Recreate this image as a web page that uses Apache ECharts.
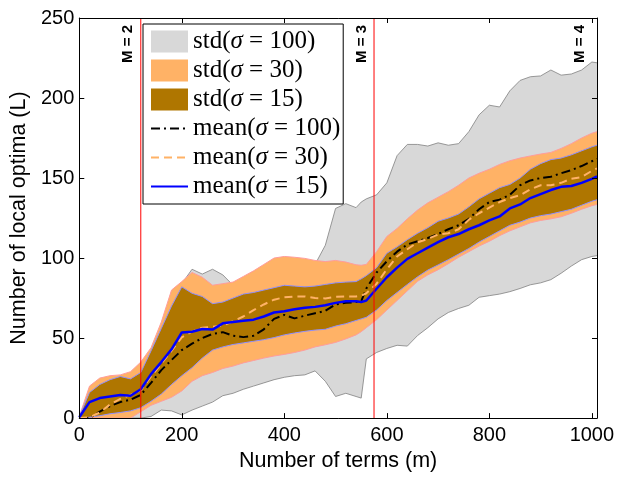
<!DOCTYPE html>
<html><head><meta charset="utf-8">
<script src="https://cdn.jsdelivr.net/npm/echarts@6/dist/echarts.min.js"></script>
<style>html,body{margin:0;padding:0;background:#fff}#c{width:618px;height:477px}</style>
</head><body><div id="c"></div>
<script>
// Number of terms (m)
const terms = [0,20,40,60,80,100,120,140,160,180,200,220,240,260,280,300,320,340,360,380,400,420,440,460,480,500,520,540,550,560,580,600,620,640,660,680,700,720,740,760,780,800,820,840,860,880,900,920,940,960,980,1000,1010];
// mean curves
const mean100 = [0,0,4,7.5,10,11.5,14.5,22,30,36.3,42.5,46.5,50,52.6,53.7,51.5,50.6,51.5,55.5,62,64.5,62.3,64,65.5,67,71,72,72.5,73,81,91,98,104,108.5,110.5,112.5,115,118,120.5,124.5,130.5,135,136.5,139.5,145.5,148.5,150,150.8,153,155,157.5,160.5,162];
const mean30 = [0,0.5,3.5,8.5,12,14.5,17.5,26,34,42,50.5,54,56.5,57,57.8,60.5,63.5,67.5,71,74,75.5,76,76,75,74.8,75.8,76,76,76.5,78,84,93,101,105.5,109.8,112,114.7,115.5,118,124,128,131.5,135,137.5,139.3,143,145.5,145.5,147,149.6,150.6,154.5,156];
const mean15 = [0.5,10,12.5,13.5,14.5,14,18,27.5,35,43,53.5,54,55.7,55.3,59.2,60,60.8,61.5,63.5,66,66.8,68,69,69.5,70.5,72,73,73,72.5,73.5,80.8,88,94,99.5,103,106.5,110,113,115,118,120.5,123.5,126,131,133.5,137.5,140,142.5,144.5,145,147,149.5,151];
// std bands (lower / upper edges)
const std100Lo = [0,0,0,0,0,0,0,1,5,4.5,2,5,7.5,10,14,15.5,18,20,22,24,25.5,26.5,27,29.5,23,13.5,15.5,13.5,12.5,37,41,43.5,45.5,45,51.6,56.5,62,66,68.5,70.5,75.5,76.5,77.5,79,81,83.3,84.5,86.5,90.5,95,99,101,101.5];
const std100Hi = [0.5,14,20,23,25,27,32,42,58,77,84,93,90,93,89.5,83,86,89,93,97,98,97,96,96,108,131,134,131.5,135,137,139.5,147,164,171,171,170,172,170.5,171.5,179,189.5,195.5,194.4,204.5,211,213.3,213.8,217.5,214.3,215,217.5,222.5,222];
const std30Lo = [0,0,0,0,0,0,4,8,10.5,13,17,23,26.5,28.5,31,32.5,34.5,36,37.5,38.8,39.8,41,42.5,44.5,45.8,47.3,49.5,52,54,56.5,61.5,67.5,73.5,79.5,85.5,89.5,92.7,96.5,100.5,104,107.5,110.5,114,117,119.5,122,123.5,124.5,125.8,128,130.5,132.7,133.5];
const std30Hi = [1,20,25,26.5,27,29,35,44,60,80,85.3,91,88,83,84,85,88.5,92,96,100,101,100.5,99.8,98.5,97.8,98.5,97.5,95.8,95.5,96,104,113.5,118.5,124.5,130,134.5,138,141.5,145.5,150,153,155.5,158.5,160.8,162.5,163.8,165,166,168.5,171.5,175,178,179];
const std15Lo = [0,0.5,1.5,2.7,3.5,4.5,6.5,10.5,15,21,26.5,31.5,37.5,42.5,44.5,46,47,48,49,50.3,52,53.2,54.2,55,55.5,57.5,59,61,62,63,67.5,73.5,78.5,83.5,88.3,92.5,95.7,99,102.5,106,110,113.5,117,120.5,122.5,125,126.5,127.5,129,130.5,133,135.5,136.5];
const std15Hi = [1,16,21,24,26,24.5,28.5,42,56,70,82,78,76,71.5,72.5,75,77.5,78.5,80,81.5,83,82.5,82,82.5,83.5,84.5,85,85.3,87,89,94,103,107,111.5,115.5,119,123,125,127.5,132,137,140.5,144,146,150,155.5,159,161.5,162.5,164.5,167,169.5,170.5];
// ticks
const xTicks = [0,200,400,600,800,1000];
const yTicks = [0,50,100,150,200,250];
// vertical markers (the M = 4 boundary line is not drawn inside the frame)
const mPositions = [120,575,1000];
const mLabels = ['M = 2','M = 3','M = 4'];
const mShowLine = [true,true,false];
// legend names
const names = ['std(σ = 100)','std(σ = 30)','std(σ = 15)','mean(σ = 100)','mean(σ = 30)','mean(σ = 15)'];

const pairs = v => terms.map((x,i)=>[x,v[i]]);

function band(name, lo, hi, fill, edge, w){
  return {
    type:'custom', name, coordinateSystem:'cartesian2d', silent:true, z:2,
    data: terms.map((x,i)=>[x, lo[i], hi[i]]),
    encode:{x:0, y:[1,2]},
    itemStyle:{color:fill},
    renderItem:(params, api) => {
      if (params.dataIndex !== 0) return null;
      const up = terms.map((x,i)=>api.coord([x, hi[i]]));
      const dn = terms.map((x,i)=>api.coord([x, lo[i]]));
      return {type:'group', children:[
        {type:'polygon', shape:{points:up.concat(dn.slice().reverse())}, style:{fill:fill, stroke:null}},
        {type:'polyline', shape:{points:up}, style:{stroke:edge, lineWidth:w, fill:null}},
        {type:'polyline', shape:{points:dn}, style:{stroke:edge, lineWidth:w, fill:null}}
      ]};
    }
  };
}

const GRAY='#d8d8d8', ORANGE='#ffb266', BROWN='#af7600';
const chart = echarts.init(document.getElementById('c'));
const axisFont = {fontFamily:'Liberation Sans', fontSize:20, color:'#000'};
const serif = {fontFamily:'Liberation Serif', fontSize:25, color:'#000'};
chart.setOption({
  animation:false,
  grid:{left:76,right:21,top:18,bottom:49},
  xAxis:[
    {type:'value', min:0, max:1010, position:'bottom', z:10,
     name:'Number of terms (m)', nameLocation:'middle', nameGap:27,
     nameTextStyle:{fontFamily:'Liberation Sans', fontSize:21.5, color:'#000'},
     axisLine:{onZero:false, lineStyle:{color:'#000',width:1}},
     axisTick:{inside:true,length:5,customValues:xTicks,lineStyle:{color:'#000'}},
     axisLabel:Object.assign({customValues:xTicks, margin:7, formatter:v=>String(v)}, axisFont),
     splitLine:{show:false}},
    {type:'value', min:0, max:1010, position:'top', z:10,
     axisLine:{onZero:false, lineStyle:{color:'#000',width:1}},
     axisTick:{inside:true,length:5,customValues:xTicks,lineStyle:{color:'#000'}},
     axisLabel:{show:false}, splitLine:{show:false}}
  ],
  yAxis:[
    {type:'value', min:0, max:250, position:'left', z:10,
     name:'Number of local optima (L)', nameLocation:'middle', nameGap:47,
     nameTextStyle:{fontFamily:'Liberation Sans', fontSize:21.5, color:'#000'},
     axisLine:{show:true,onZero:false, lineStyle:{color:'#000',width:1}},
     axisTick:{show:true,inside:true,length:5,customValues:yTicks,lineStyle:{color:'#000'}},
     axisLabel:Object.assign({customValues:yTicks, margin:5, formatter:v=>String(v)}, axisFont),
     splitLine:{show:false}},
    {type:'value', min:0, max:250, position:'right', z:10,
     axisLine:{show:true,onZero:false, lineStyle:{color:'#000',width:1}},
     axisTick:{show:true,inside:true,length:5,customValues:yTicks,lineStyle:{color:'#000'}},
     axisLabel:{show:false}, splitLine:{show:false}}
  ],
  legend:{
    orient:'vertical', left:143, top:24, itemWidth:37, itemHeight:22, itemGap:4,
    padding:[5,3,5,7], backgroundColor:'#fff', borderColor:'#000', borderWidth:1,
    selectedMode:false,
    data:[
      {name:names[0], icon:'rect', itemStyle:{color:GRAY,borderWidth:0}},
      {name:names[1], icon:'rect', itemStyle:{color:ORANGE,borderWidth:0}},
      {name:names[2], icon:'rect', itemStyle:{color:BROWN,borderWidth:0}},
      {name:names[3], itemStyle:{opacity:0}},
      {name:names[4], itemStyle:{opacity:0}},
      {name:names[5], itemStyle:{opacity:0}}
    ],
    formatter: n => n.replace('σ','{i|σ}'),
    textStyle:Object.assign({rich:{i:Object.assign({fontStyle:'italic'},serif)}}, serif)
  },
  series:[
    band(names[0],std100Lo,std100Hi,GRAY,'#808080',0.8),
    band(names[1],std30Lo,std30Hi,ORANGE,'#ff9c9c',1),
    band(names[2],std15Lo,std15Hi,BROWN,'#8f8fff',1),
    {type:'line', name:names[3], data:pairs(mean100), symbol:'none', color:'#000',
     lineStyle:{color:'#000',width:2,type:[9,4,2,4]}, z:3},
    {type:'line', name:names[4], data:pairs(mean30), symbol:'none', color:ORANGE,
     lineStyle:{color:ORANGE,width:2,type:[8,5]}, z:3},
    {type:'line', name:names[5], data:pairs(mean15), symbol:'none', color:'#0000ff',
     lineStyle:{color:'#0000ff',width:2.5}, z:3},
    {type:'custom', name:'markers', coordinateSystem:'cartesian2d', silent:true, z:4, clip:false,
     data: mPositions.map(x=>[x]), encode:{x:0},
     renderItem:(params, api) => {
       const i = params.dataIndex, x = mPositions[i];
       const top = api.coord([x, yTicks[yTicks.length-1]]);
       const bot = api.coord([x, yTicks[0]]);
       const kids = [];
       if (mShowLine[i]) kids.push({type:'line', shape:{x1:top[0],y1:top[1],x2:bot[0],y2:bot[1]},
         style:{stroke:'#ff0000', lineWidth:1}});
       kids.push({type:'text', x:top[0]-5, y:top[1]+7, rotation:Math.PI/2,
         style:{text:mLabels[i], align:'right', verticalAlign:'bottom',
                font:'bold 15px "Liberation Sans"', fill:'#000'}});
       return {type:'group', children:kids};
     }}
  ]
});
</script></body></html>
